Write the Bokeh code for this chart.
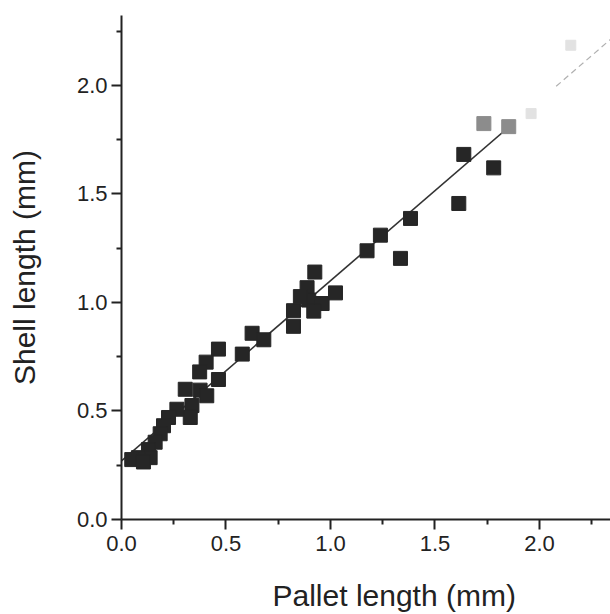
from bokeh.plotting import figure
from bokeh.models import FixedTicker, PrintfTickFormatter, Title, Range1d
from bokeh.embed import file_html
from bokeh.resources import INLINE

# Dark data points (pallet length, shell length) in mm
pallet_dark = [1.638, 1.781, 1.614, 1.383, 1.239, 1.175, 1.335, 0.925, 1.024, 0.888,
               0.896, 0.960, 0.920, 0.823, 0.823, 0.625, 0.681, 0.578, 0.464, 0.405,
               0.374, 0.464, 0.305, 0.376, 0.408, 0.337, 0.329, 0.265, 0.225, 0.201,
               0.185, 0.161, 0.129, 0.137, 0.081, 0.049, 0.105, 0.856]
shell_dark = [1.682, 1.620, 1.456, 1.387, 1.310, 1.238, 1.203, 1.140, 1.044, 1.068,
              1.011, 0.995, 0.960, 0.962, 0.890, 0.858, 0.828, 0.762, 0.785, 0.725,
              0.680, 0.645, 0.600, 0.596, 0.570, 0.525, 0.470, 0.508, 0.470, 0.432,
              0.395, 0.356, 0.322, 0.285, 0.285, 0.276, 0.265, 1.027]

# Faded (gray) points near the top right
pallet_gray = [1.734, 1.853]
shell_gray = [1.824, 1.810]
pallet_faint = [2.150, 1.960]
shell_faint = [2.185, 1.870]

# Regression line
fit_x = [0.0, 1.87]
fit_y = [0.27, 1.822]
fit_x_faint = [2.08, 2.34]
fit_y_faint = [1.996, 2.212]

x_major = [0.0, 0.5, 1.0, 1.5, 2.0]
x_minor = [0.25, 0.75, 1.25, 1.75, 2.25]
y_major = [0.0, 0.5, 1.0, 1.5, 2.0]
y_minor = [0.25, 0.75, 1.25, 1.75, 2.25]

FONT = "Liberation Sans"
INK = "#222222"

p = figure(width=610, height=634, output_backend="svg", toolbar_location=None,
           x_range=Range1d(0, 2.34), y_range=Range1d(0, 2.322),
           min_border_left=121, min_border_right=0, min_border_top=15, min_border_bottom=114)
p.outline_line_color = None
p.xgrid.grid_line_color = None
p.ygrid.grid_line_color = None
p.background_fill_color = "white"

p.line(fit_x, fit_y, line_color="#333333", line_width=1.6)
p.line(fit_x_faint, fit_y_faint, line_color="#b0b0b0", line_width=1.2, line_dash="6 4")

p.scatter(pallet_dark, shell_dark, marker="square", size=14, fill_color="#262626", line_color="#262626")
p.scatter(pallet_gray, shell_gray, marker="square", size=14, fill_color="#8c8c8c", line_color="#8c8c8c")
p.scatter(pallet_faint, shell_faint, marker="square", size=10, fill_color="#e2e2e2", line_color="#e2e2e2")

for ax, major, minor in ((p.xaxis[0], x_major, x_minor), (p.yaxis[0], y_major, y_minor)):
    ax.ticker = FixedTicker(ticks=major, minor_ticks=minor)
    ax.formatter = PrintfTickFormatter(format="%.1f")
    ax.axis_line_width = 2
    ax.axis_line_color = INK
    ax.major_tick_line_color = INK
    ax.minor_tick_line_color = INK
    ax.major_tick_line_width = 2
    ax.minor_tick_line_width = 2
    ax.major_tick_in = 0
    ax.minor_tick_in = 0
    ax.major_tick_out = 10
    ax.minor_tick_out = 5
    ax.major_label_text_font = FONT
    ax.major_label_text_font_size = "22px"
    ax.major_label_text_color = INK
    ax.major_label_text_font_style = "normal"

p.xaxis.major_label_standoff = 6
p.yaxis.major_label_standoff = 4

p.yaxis.axis_label = "Shell length (mm)"
p.yaxis.axis_label_text_font = FONT
p.yaxis.axis_label_text_font_size = "30px"
p.yaxis.axis_label_text_font_style = "normal"
p.yaxis.axis_label_text_color = INK
p.yaxis.axis_label_standoff = 33

p.add_layout(Title(text="Pallet length (mm)", align="left", offset=151, standoff=46,
                   text_font=FONT, text_font_size="30px", text_font_style="normal",
                   text_color=INK), "below")

open("out.html", "w").write(file_html(p, INLINE))
